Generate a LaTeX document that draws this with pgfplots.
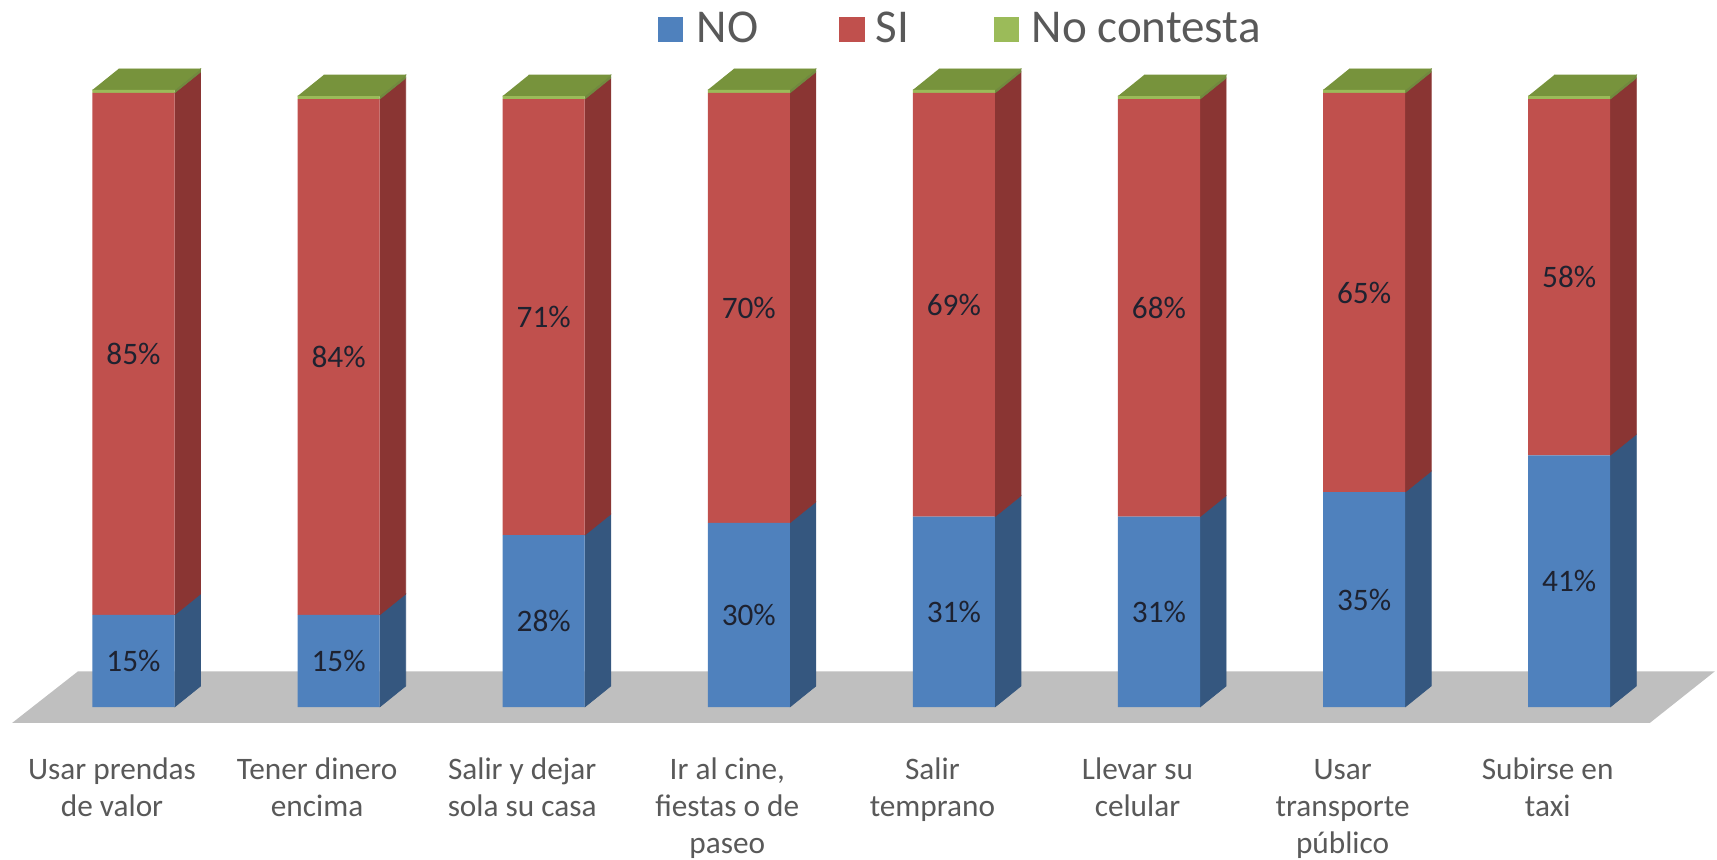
\documentclass[border=0pt]{standalone}
\usepackage{pgfplots}
\usepackage{pgfplotstable}
\pgfplotsset{compat=1.18}
\usepackage{fontspec}
\setmainfont{Carlito}
\definecolor{bfront}{HTML}{4F81BD}
\definecolor{bside}{HTML}{35577F}
\definecolor{rfront}{HTML}{C0504D}
\definecolor{rside}{HTML}{8A3533}
\definecolor{gfront}{HTML}{9BBB59}
\definecolor{gside}{HTML}{71893F}
\definecolor{gtop}{HTML}{77933C}
\definecolor{floorgray}{HTML}{BFBFBF}
\definecolor{txtgray}{HTML}{595959}
\definecolor{lblcol}{HTML}{1E2230}

\pgfplotstableread{
x NO SI NC
0 15 85 0.5
1 15 84 0.5
2 28 71 0.5
3 30 70 0.5
4 31 69 0.5
5 31 68 0.5
6 35 65 0.5
7 41 58 0.5
}\data

\newcommand\hw{0.2}
\newcommand\ddx{0.127}
\newcommand\ddy{3.42}

\pgfplotsset{common/.style={
  x=2.051cm, y=0.0614cm,
  xmin=-0.8, xmax=7.9, ymin=-4, ymax=106,
  hide axis, clip=false,
  at={(1.335cm,1.52cm)}, anchor=origin,
}}

\begin{document}
\begin{tikzpicture}
\useasboundingbox (0,0) rectangle (17.17cm,8.59cm);
% floor and 3D faces
\begin{axis}[common]
\addplot[fill=floorgray,draw=none] coordinates {(-0.592,-2.6) (7.393,-2.6) (7.71,5.8) (-0.271,5.8)};
\pgfplotsinvokeforeach{0,...,7}{
  \pgfplotstablegetelem{#1}{NO}\of\data \let\vno\pgfplotsretval
  \pgfplotstablegetelem{#1}{SI}\of\data \let\vsi\pgfplotsretval
  \pgfplotstablegetelem{#1}{NC}\of\data \let\vnc\pgfplotsretval
  \pgfmathsetmacro\xl{#1-\hw}
  \pgfmathsetmacro\xr{#1+\hw}
  \pgfmathsetmacro\xrr{#1+\hw+\ddx}
  \pgfmathsetmacro\xll{#1-\hw+\ddx}
  \pgfmathsetmacro\ya{\vno}
  \pgfmathsetmacro\yb{\vno+\vsi}
  \pgfmathsetmacro\yc{\vno+\vsi+\vnc}
  \pgfmathsetmacro\yad{\ya+\ddy}
  \pgfmathsetmacro\ybd{\yb+\ddy}
  \pgfmathsetmacro\ycd{\yc+\ddy}
  \edef\temp{%
   \noexpand\addplot[fill=bside,draw=bside,line width=0.2pt] coordinates {(\xr,0) (\xrr,\ddy) (\xrr,\yad) (\xr,\ya)};
   \noexpand\addplot[fill=rside,draw=rside,line width=0.2pt] coordinates {(\xr,\ya) (\xrr,\yad) (\xrr,\ybd) (\xr,\yb)};
   \noexpand\addplot[fill=gside,draw=gside,line width=0.2pt] coordinates {(\xr,\yb) (\xrr,\ybd) (\xrr,\ycd) (\xr,\yc)};
   \noexpand\addplot[fill=gtop,draw=gtop,line width=0.2pt] coordinates {(\xl,\yc) (\xr,\yc) (\xrr,\ycd) (\xll,\ycd)};
  }%
  \temp
}
\end{axis}
% front faces
\begin{axis}[common, ybar stacked, bar width=0.4,
  every node near coord/.append style={font=\fontsize{8.9}{10}\selectfont, text=lblcol, anchor=center, inner sep=0pt}]
\addplot[fill=bfront, draw=none, point meta=explicit symbolic,
  nodes near coords={\pgfplotspointmeta\%}]
  table[x=x,y=NO,meta=NO]{\data};
\addplot[fill=rfront, draw=none, point meta=explicit symbolic,
  nodes near coords={\pgfplotspointmeta\%}]
  table[x=x,y=SI,meta=SI]{\data};
\addplot[fill=gfront, draw=none] table[x=x,y=NC]{\data};
\end{axis}
% category labels
\foreach \i/\t in {0/{Usar prendas\\de valor},1/{Tener dinero\\encima},2/{Salir y dejar\\sola su casa},3/{Ir al cine,\\fiestas o de\\paseo},4/{Salir\\temprano},5/{Llevar su\\celular},6/{Usar\\transporte\\público},7/{Subirse en\\taxi}}{
  \node[anchor=base, inner sep=0pt, text=txtgray, font=\fontsize{8.9}{10.53}\selectfont] at ({1.12+2.051*\i}, 0.80)
   {\renewcommand\arraystretch{1}\begin{tabular}[t]{@{}c@{}}\t\end{tabular}};
}
% legend
\fill[bfront] (6.58,8.17) rectangle (6.83,8.42);
\node[anchor=base west, inner sep=0pt, text=txtgray, font=\fontsize{13.4}{16}\selectfont] at (6.96,8.17) {NO};
\fill[rfront] (8.39,8.17) rectangle (8.65,8.42);
\node[anchor=base west, inner sep=0pt, text=txtgray, font=\fontsize{13.4}{16}\selectfont] at (8.75,8.17) {SI};
\fill[gfront] (9.94,8.17) rectangle (10.19,8.42);
\node[anchor=base west, inner sep=0pt, text=txtgray, font=\fontsize{13.4}{16}\selectfont] at (10.31,8.17) {No contesta};
\end{tikzpicture}
\end{document}
